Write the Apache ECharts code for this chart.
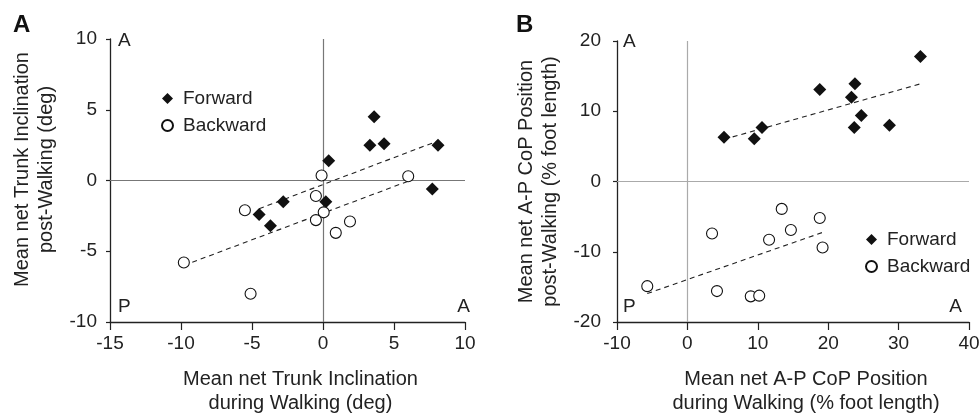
<!DOCTYPE html>
<html>
<head>
<meta charset="utf-8">
<script src="https://cdn.jsdelivr.net/npm/echarts@6/dist/echarts.min.js"></script>
<style>
  html, body { margin: 0; padding: 0; background: #fff; }
  #chart { width: 980px; height: 414px; }
</style>
</head>
<body>
<div id="chart"></div>
<script>
// panel A - trunk inclination (deg), [during walking, post walking]
var trunkForward = [[3.6, 4.5], [3.3, 2.5], [4.3, 2.6], [8.1, 2.5], [0.4, 1.4], [7.7, -0.6],
  [0.2, -1.5], [-2.8, -1.5], [-4.5, -2.4], [-3.7, -3.2]];
var trunkBackward = [[-0.1, 0.35], [6.0, 0.3], [-0.5, -1.1], [-5.5, -2.1], [0.05, -2.25],
  [-0.5, -2.8], [1.9, -2.9], [0.9, -3.7], [-9.8, -5.8], [-5.1, -8.0]];
// regression lines (end points)
var trunkForwardFit = [[-4.5, -2.0], [8.1, 2.8]];
var trunkBackwardFit = [[-9.8, -6.0], [6.0, -0.05]];

// panel B - A-P CoP position (% foot length)
var copForward = [[5.2, 6.3], [9.5, 6.1], [10.6, 7.7], [18.8, 13.1], [23.8, 13.9], [23.3, 12.0],
  [24.7, 9.4], [23.7, 7.7], [28.7, 8.0], [33.1, 17.8]];
var copBackward = [[13.4, -3.9], [18.8, -5.2], [3.5, -7.4], [14.7, -6.9], [11.6, -8.3],
  [19.2, -9.4], [-5.7, -14.9], [4.2, -15.6], [9.0, -16.35], [10.2, -16.25]];
var copForwardFit = [[5.2, 6.0], [33.1, 13.9]];
var copBackwardFit = [[-5.7, -15.95], [19.2, -7.25]];

var trunkX = { min: -15, max: 10, step: 5 };
var trunkY = { min: -10, max: 10, step: 5 };
var copX = { min: -10, max: 40, step: 10 };
var copY = { min: -20, max: 20, step: 10 };

var FONT = '"Liberation Sans", Arial, Helvetica, sans-serif';
var INK = '#222';

var chart = echarts.init(document.getElementById('chart'), null, { renderer: 'canvas' });

function xAxisOf(idx, rng, name) {
  return {
    gridIndex: idx, type: 'value', min: rng.min, max: rng.max, interval: rng.step,
    name: name, nameLocation: 'middle', nameGap: 46,
    nameTextStyle: { fontFamily: FONT, fontSize: 20, lineHeight: 23.5, color: INK, padding: [0, 0, 0, 26] },
    axisLine: { onZero: false, lineStyle: { color: INK, width: 1.3 } },
    axisTick: { length: 8, lineStyle: { color: INK, width: 1.2 } },
    axisLabel: { fontFamily: FONT, fontSize: 19, color: INK, margin: 12 },
    splitLine: { show: false }
  };
}
function yAxisOf(idx, rng, name, gap, pad, tick, margin) {
  return {
    gridIndex: idx, type: 'value', min: rng.min, max: rng.max, interval: rng.step,
    name: name, nameLocation: 'middle', nameGap: gap,
    nameTextStyle: { fontFamily: FONT, fontSize: 20, lineHeight: 23.5, color: INK, padding: [0, 0, 0, pad] },
    axisLine: { onZero: false, lineStyle: { color: INK, width: 1.3 } },
    axisTick: { length: tick, lineStyle: { color: INK, width: 1.2 } },
    axisLabel: { fontFamily: FONT, fontSize: 19, color: INK, margin: margin },
    splitLine: { show: false }
  };
}

function zeroLines(color) {
  return {
    silent: true, symbol: 'none', label: { show: false },
    lineStyle: { color: color, width: 1.2, type: 'solid' },
    data: [{ xAxis: 0 }, { yAxis: 0 }]
  };
}

function pointsSeries(name, idx, data, filled, extra) {
  var s = {
    name: name, type: 'scatter', xAxisIndex: idx, yAxisIndex: idx, data: data,
    symbol: filled ? 'diamond' : 'circle',
    symbolSize: filled ? 13 : 11,
    itemStyle: filled ? { color: '#111', borderColor: '#111', borderWidth: 0, opacity: 1 }
                      : { color: '#fff', borderColor: '#111', borderWidth: 1.1, opacity: 1 },
    z: 5
  };
  if (extra) s.markLine = extra;
  return s;
}
function fitSeries(idx, data) {
  return {
    type: 'line', xAxisIndex: idx, yAxisIndex: idx, data: data, symbol: 'none',
    lineStyle: { color: '#222', width: 1.1, type: [5, 4] }, z: 3, silent: true
  };
}

function cornerText(text, x, y, align) {
  return {
    type: 'text', x: x, y: y, silent: true,
    style: { text: text, font: '19px ' + FONT, fill: INK, align: align || 'left', textAlign: align || 'left',
      verticalAlign: 'middle', textVerticalAlign: 'middle' }
  };
}
function panelText(text, x, y) {
  return {
    type: 'text', x: x, y: y, silent: true,
    style: { text: text, font: 'bold 24px ' + FONT, fill: '#111', align: 'left', textAlign: 'left',
      verticalAlign: 'middle', textVerticalAlign: 'middle' }
  };
}

var legendBase = {
  orient: 'vertical', data: ['Forward', 'Backward'], itemWidth: 11, itemHeight: 11, itemGap: 8,
  padding: 0,
  textStyle: { fontFamily: FONT, fontSize: 19, lineHeight: 18, color: INK, padding: [0, 0, 0, 5] },
  selectedMode: false
};

var option = {
  animation: false,
  backgroundColor: '#fff',
  grid: [
    { left: 110, right: 515, top: 39, bottom: 92, outerBoundsMode: 'none' },
    { left: 617, right: 11, top: 41, bottom: 92, outerBoundsMode: 'none' }
  ],
  xAxis: [
    xAxisOf(0, trunkX, 'Mean net Trunk Inclination\nduring Walking (deg)'),
    xAxisOf(1, copX, 'Mean net A-P CoP Position\nduring Walking (% foot length)')
  ],
  yAxis: [
    yAxisOf(0, trunkY, 'Mean net Trunk Inclination\npost-Walking (deg)', 52, 22, 4, 13),
    yAxisOf(1, copY, 'Mean net A-P CoP Position\npost-Walking (% foot length)', 55, 0, 4, 16)
  ],
  legend: [
    Object.assign({ left: 161, top: 89 }, legendBase),
    Object.assign({ left: 865, top: 230 }, legendBase)
  ],
  series: [
    pointsSeries('Forward', 0, trunkForward, true, zeroLines('#777')),
    pointsSeries('Backward', 0, trunkBackward, false),
    fitSeries(0, trunkForwardFit),
    fitSeries(0, trunkBackwardFit),
    pointsSeries('Forward', 1, copForward, true, zeroLines('#aaa')),
    pointsSeries('Backward', 1, copBackward, false),
    fitSeries(1, copForwardFit),
    fitSeries(1, copBackwardFit)
  ],
  graphic: [
    panelText('A', 13, 25),
    panelText('B', 516, 25),
    cornerText('A', 118, 41),
    cornerText('P', 118, 307),
    cornerText('A', 470, 307, 'right'),
    cornerText('A', 623, 42),
    cornerText('P', 623, 307),
    cornerText('A', 962, 307, 'right')
  ]
};

chart.setOption(option);
</script>
</body>
</html>
